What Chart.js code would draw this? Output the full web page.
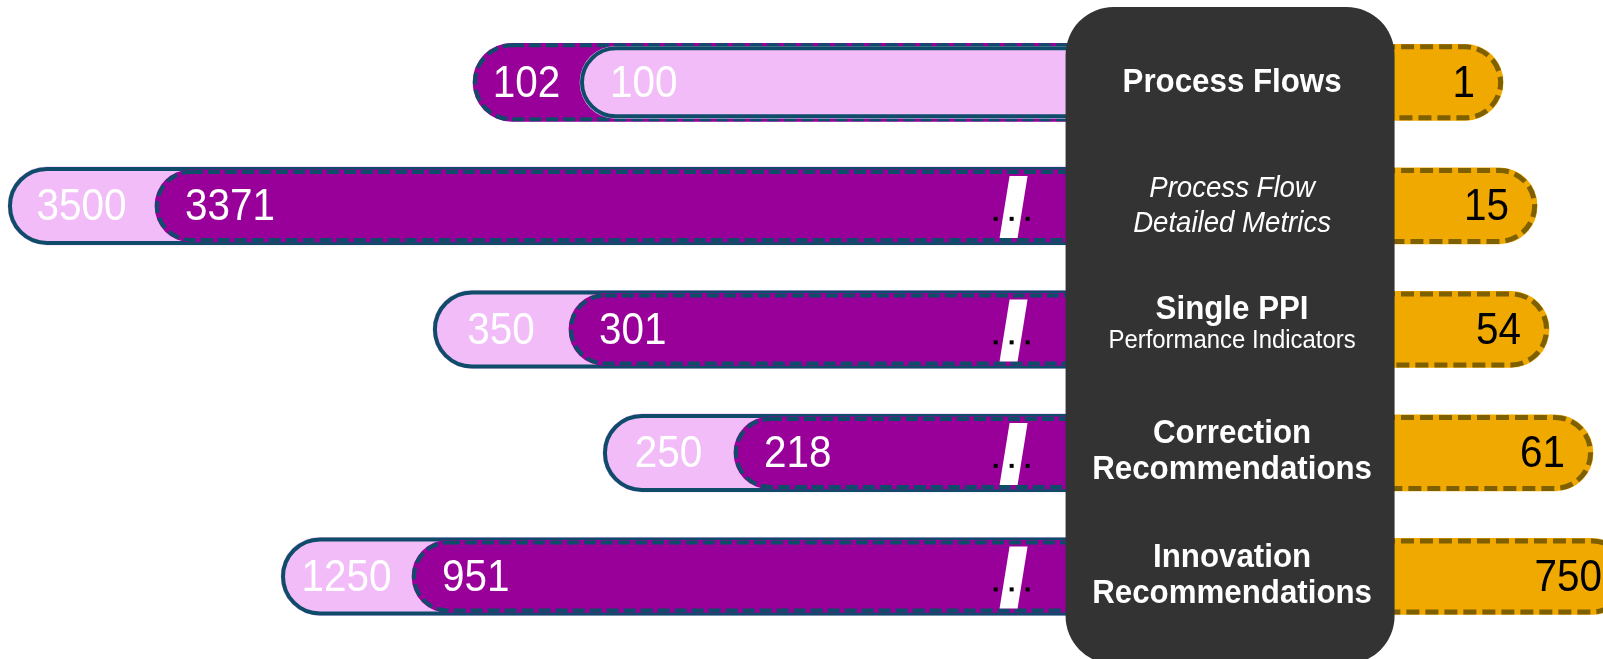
<!DOCTYPE html>
<html>
<head>
<meta charset="utf-8">
<script src="https://cdn.jsdelivr.net/npm/chart.js@4/dist/chart.umd.min.js"></script>
<style>
	html, body { margin: 0; padding: 0; background: #ffffff; }
	#wrap { width: 1603px; height: 659px; }
</style>
</head>
<body>
<div id="wrap"><canvas id="rel1" width="1603" height="659"></canvas></div>
<script>
var categories = ['Process Flows', 'Process Flow Detailed Metrics', 'Single PPI', 'Correction Recommendations', 'Innovation Recommendations'];
var category_lines = [
	['Process Flows'],
	['Process Flow', 'Detailed Metrics'],
	['Single PPI', 'Performance Indicators'],
	['Correction', 'Recommendations'],
	['Innovation', 'Recommendations']
];
var pink_list = [100, 3500, 350, 250, 1250];
var purple_list = [102, 3371, 301, 218, 951];
var orange_list = [1, 15, 54, 61, 750];

// each row has its own broken scale; start = value sitting under the centre panel
var left_axes = [
	{min: 80.88, max: 110.84, start: 87.85, broken: false},
	{min: 2100.3, max: 3507.0, start: 2427.6, broken: true},
	{min: -71.6, max: 506.0, start: 62.8, broken: true},
	{min: 5.7, max: 397.3, start: 96.8, broken: true},
	{min: -1767.3, max: 1891.4, start: -916.0, broken: true}
];
var right_axes = [
	{min: -4.506, max: 1.366},
	{min: -60.10, max: 18.22},
	{min: -208.2, max: 63.14},
	{min: -206.7, max: 62.68},
	{min: -2306, max: 699.4}
];

var FONT = '"Liberation Sans", Arial, sans-serif';
var PINK = '#F2BCF9', PURPLE = '#990099', ORANGE = '#F0A900';
var TEAL = '#0E4C6A', BROWN = '#7F6000', PANEL = '#333333';

Chart.defaults.font.family = FONT;

function squeezed(ctx, text, x, y, font, color, align) {
	ctx.save();
	ctx.font = font;
	ctx.fillStyle = color;
	ctx.textAlign = align || 'center';
	ctx.textBaseline = 'middle';
	ctx.translate(x, y);
	ctx.scale(0.92, 1);
	ctx.fillText(text, 0, 0);
	ctx.restore();
}

var datasets = [];
var scales = {
	y: {type: 'category', labels: categories, display: false, offset: true}
};

categories.forEach(function(cat, r) {
	var pinkBack = pink_list[r] >= purple_list[r];
	var pink = {
		label: 'pink', row: r, role: pinkBack ? 'back' : 'front',
		data: [{x: pink_list[r], y: cat}],
		xAxisID: 'xL' + r, base: left_axes[r].start,
		backgroundColor: PINK,
		outline: {color: TEAL, width: 4, dash: []}
	};
	var purple = {
		label: 'purple', row: r, role: pinkBack ? 'front' : 'back',
		data: [{x: purple_list[r], y: cat}],
		xAxisID: 'xL' + r, base: left_axes[r].start,
		backgroundColor: PURPLE,
		outline: {color: TEAL, width: 4, dash: [12, 5]}
	};
	var orange = {
		label: 'orange', row: r, role: 'side',
		data: [{x: orange_list[r], y: cat}],
		xAxisID: 'xR' + r,
		backgroundColor: ORANGE,
		barThickness: 76, order: 1,
		outline: {color: BROWN, width: 5, dash: [13, 6]}
	};
	[pink, purple].forEach(function(ds) {
		ds.barThickness = ds.role == 'back' ? 78 : 72;
		ds.order = ds.role == 'back' ? 3 : 2;
	});
	[pink, purple, orange].forEach(function(ds) {
		ds.grouped = false;
		ds.borderWidth = 0;
		ds.borderRadius = 100;
		ds.borderSkipped = false;
		datasets.push(ds);
	});
	scales['xL' + r] = {type: 'linear', axis: 'x', reverse: true, display: false,
		min: left_axes[r].min, max: left_axes[r].max};
	scales['xR' + r] = {type: 'linear', axis: 'x', display: false,
		min: right_axes[r].min, max: right_axes[r].max};
});

// dashed / solid pill outlines, drawn right after each dataset
var outlines = {
	id: 'outlines',
	afterDatasetDraw: function(chart, args) {
		var ds = chart.data.datasets[args.index];
		var ctx = chart.ctx;
		args.meta.data.forEach(function(bar) {
			var p = bar.getProps(['x', 'y', 'base', 'height'], true);
			var lw = ds.outline.width;
			var left = Math.min(p.x, p.base), w = Math.abs(p.x - p.base);
			var top = p.y - p.height / 2, h = p.height;
			ctx.save();
			ctx.beginPath();
			ctx.roundRect(left + lw / 2, top + lw / 2, w - lw, h - lw, (h - lw) / 2);
			ctx.lineWidth = lw;
			ctx.strokeStyle = ds.outline.color;
			ctx.setLineDash(ds.outline.dash);
			ctx.stroke();
			ctx.restore();
		});
	}
};

var overlay = {
	id: 'overlay',
	afterDatasetsDraw: function(chart) {
		var ctx = chart.ctx;
		var bars = {};
		chart.data.datasets.forEach(function(ds, i) {
			bars[ds.row + ds.role] = chart.getDatasetMeta(i).data[0];
		});
		var cx = chart.scales.xL0.getPixelForValue(left_axes[0].start);
		var boxLeft = cx - 164.5;

		categories.forEach(function(cat, r) {
			var back = bars[r + 'back'], front = bars[r + 'front'];
			var cy = chart.scales.y.getPixelForValue(r);
			if (!left_axes[r].broken) return;
			// break mark on the front bar
			var t = front.y - front.height / 2 + 6, b = front.y + front.height / 2 - 4;
			var sx = boxLeft - 52;
			ctx.save();
			ctx.fillStyle = '#ffffff';
			ctx.beginPath();
			ctx.moveTo(sx + 5 - 9, t);
			ctx.lineTo(sx + 5 + 9, t);
			ctx.lineTo(sx - 5 + 9, b);
			ctx.lineTo(sx - 5 - 9, b);
			ctx.closePath();
			ctx.fill();
			var dy = front.y - front.height / 2 + front.height * 0.68;
			var dx = sx + 5 - 10 * (dy - t) / (b - t);
			ctx.fillStyle = '#000000';
			[-16, 0, 16].forEach(function(o) {
				ctx.fillRect(dx + o - 2, dy - 2, 4, 4);
			});
			ctx.restore();
		});

		// centre panel
		ctx.save();
		ctx.fillStyle = PANEL;
		ctx.beginPath();
		ctx.roundRect(boxLeft, 7, 329, 657, 48);
		ctx.fill();
		ctx.restore();

		categories.forEach(function(cat, r) {
			var cy = chart.scales.y.getPixelForValue(r);
			var lines = category_lines[r];
			var tx = cx + 2;
			if (r == 0) {
				squeezed(ctx, lines[0], tx, cy, 'bold 34px ' + FONT, '#ffffff');
			} else if (r == 1) {
				squeezed(ctx, lines[0], tx, cy - 17, 'italic 30px ' + FONT, '#ffffff');
				squeezed(ctx, lines[1], tx, cy + 18, 'italic 30px ' + FONT, '#ffffff');
			} else if (r == 2) {
				squeezed(ctx, lines[0], tx, cy - 20, 'bold 34px ' + FONT, '#ffffff');
				squeezed(ctx, lines[1], tx, cy + 11, '26px ' + FONT, '#ffffff');
			} else {
				squeezed(ctx, lines[0], tx, cy - 19, 'bold 34px ' + FONT, '#ffffff');
				squeezed(ctx, lines[1], tx, cy + 17, 'bold 34px ' + FONT, '#ffffff');
			}

			var back = bars[r + 'back'], front = bars[r + 'front'], side = bars[r + 'side'];
			var backVal = Math.max(pink_list[r], purple_list[r]);
			var frontVal = Math.min(pink_list[r], purple_list[r]);
			squeezed(ctx, String(backVal), (back.x + front.x) / 2, back.y + 2, '44px ' + FONT, '#ffffff');
			squeezed(ctx, String(frontVal), front.x + 30, front.y + 2, '44px ' + FONT, '#ffffff', 'left');
			squeezed(ctx, String(orange_list[r]), side.x - 28, side.y + 2, '44px ' + FONT, '#000000', 'right');
		});
	}
};

var rel1 = new Chart(document.getElementById('rel1'), {
	type: 'bar',
	data: {labels: categories, datasets: datasets},
	options: {
		indexAxis: 'y',
		responsive: false,
		animation: false,
		devicePixelRatio: 1,
		layout: {padding: {top: 20.6, bottom: 20.8, left: 0, right: 0}},
		scales: scales,
		plugins: {legend: {display: false}, tooltip: {enabled: false}}
	},
	plugins: [outlines, overlay]
});
</script>
</body>
</html>
